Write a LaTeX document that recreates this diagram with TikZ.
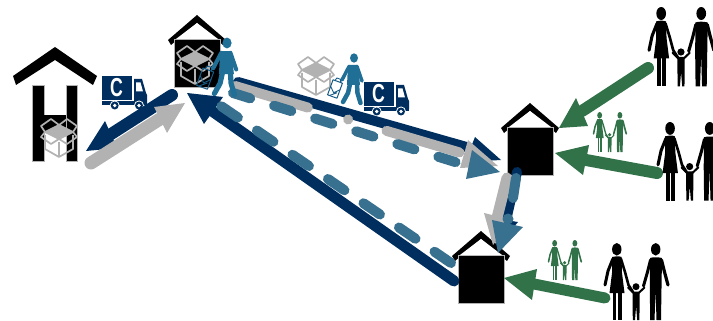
\documentclass[tikz,border=0pt]{standalone}
\usepackage{fontspec}
\setmainfont{Liberation Sans}
\definecolor{navy}{HTML}{002F5F}
\definecolor{steel}{HTML}{38708F}
\definecolor{ashg}{HTML}{B2B2B2}
\definecolor{leaf}{HTML}{317248}
\definecolor{walk}{HTML}{1F6F97}
\tikzset{
  flow/.style={line width=#1,line cap=round},
  dashA/.style={dash pattern=on 20pt off 23pt},
  dashB/.style={dash pattern=on 18pt off 25pt},
  dashC/.style={dash pattern=on 76pt off 42pt on 0.01pt off 40pt},
}
% house: apex, body
\newcommand{\housefig}[2]{%
  \begin{scope}[shift={(#1,#2)}]
    \fill[black] (0,0) -- (29,25) -- (26,30) -- (0,8) -- (-26,30) -- (-29,25) -- cycle;
    \fill[black,draw=ashg,line width=.5pt] (-23,24) rectangle (23,72.5);
    \fill[white] (0,8) -- (21,24) -- (-21,24) -- cycle;
  \end{scope}}
% open box
\newcommand{\boxfig}[3]{%
  \begin{scope}[shift={(#1,#2)},scale=#3,draw=ashg,line width=1.7pt*#3,line join=round]
    \fill[ashg] (18,6) -- (4,13) -- (18,20) -- (32,13) -- cycle;
    \draw (4,16) -- (4,30) -- (18,38) -- (32,30) -- (32,16);
    \draw (18,23) -- (18,38);
    \draw (18,6) -- (26,0) -- (36,7) -- (32,13) -- (18,6) -- (10,0) -- (0,7) -- (4,13) -- cycle;
    \draw (4,13) -- (0,18) -- (10,25) -- (18,20) -- (26,25) -- (36,18) -- (32,13);
    \draw (4,13) -- (18,20) -- (32,13);
  \end{scope}}
% truck
\newcommand{\truckfig}[2]{%
  \begin{scope}[shift={(#1,#2)}]
    \fill[navy] (0,0) rectangle (30,24);
    \fill[navy] (0,25) rectangle (45,29.5);
    \fill[navy] (32,3) -- (40,3) -- (44,17) -- (45,19) -- (45,27) -- (32,27) -- cycle;
    \fill[white] (34,6.5) -- (38.5,6.5) -- (41,15.5) -- (34,15.5) -- cycle;
    \foreach \wx in {12.7,37}{
      \fill[white] (\wx,29.5) circle (5);
      \fill[navy] (\wx,29.5) circle (4);
      \fill[white] (\wx,29.5) circle (1.8);
    }
    \node[text=white,font=\bfseries\fontsize{26}{26}\selectfont,inner sep=0pt,xscale=.68,transform shape] at (14.5,12) {C};
  \end{scope}}
% family: top-left corner, scale, colour
\newcommand{\famfig}[4]{%
  \begin{scope}[shift={(#1,#2)},scale=#3,line cap=round,line join=round,color=#4]
    % woman
    \fill (12.8,6.3) ellipse (4.7 and 6.3);
    \fill (8,14) .. controls (11,13) and (15,13) .. (17.5,14) -- (18,30) -- (20.5,50) -- (5.5,50) -- (8,30) -- cycle;
    \draw[line width=3pt*#3] (8.8,16) -- (4,28) -- (1,42);
    \draw[line width=2.6pt*#3] (17,16) -- (21,29) -- (24.5,42) -- (29,49);
    \fill (8.8,50) rectangle (12.4,77);
    \fill (14,50) rectangle (17.6,77);
    % child
    \fill (32,43.7) circle (3.5);
    \fill (28.6,48.5) -- (35.6,48.5) -- (35.6,62) -- (35.4,77) -- (33.2,77) -- (32.1,63) -- (31,77) -- (28.8,77) -- (28.6,62) -- cycle;
    \draw[line width=2pt*#3] (29.5,50) -- (24,44.5);
    \draw[line width=2pt*#3] (34.7,50) -- (40.5,44.5);
    % man
    \fill (51.7,6.3) ellipse (4.7 and 6.3);
    \fill (46,15) .. controls (49,14) and (54,14) .. (58,15) -- (57.5,45) -- (57,77) -- (52.5,77) -- (51.6,47) -- (50.5,77) -- (46.2,77) -- (45.8,45) -- cycle;
    \draw[line width=3pt*#3] (46.5,17) -- (43.5,29) -- (39.5,43);
    \draw[line width=3.2pt*#3] (57.5,17) -- (60.5,29) -- (64,42);
  \end{scope}}
% walker
\newcommand{\walkfig}[3]{%
  \begin{scope}[shift={(#1,#2)},scale=#3,line cap=round,line join=round]
    \begin{scope}[shift={(-19,31)},rotate=-20]
      \draw[walk!70!navy,line width=1pt] (-5,-8) rectangle (5,8);
      \draw[walk!70!navy,line width=.9pt] (-5,-1) -- (0,4) -- (5,-1) (-3,8) -- (3,3);
      \draw[walk!70!navy,line width=.9pt] (-3,-8) -- (-2,-11) -- (2,-11) -- (3,-8);
    \end{scope}
    \fill[walk] (0,0) ellipse (4 and 4.7);
    \fill[walk] (-6,7) -- (4,7) -- (6,27) -- (-7,27) -- cycle;
    \draw[walk,line width=3.5pt*#3] (-5,8.5) -- (-12,22);
    \draw[walk,line width=3.5pt*#3] (3,8.5) -- (8,23);
    \draw[walk,line width=4.5pt*#3] (-4,26) -- (-6,35) -- (-11,44);
    \draw[walk,line width=4.5pt*#3] (3,26) -- (3.5,35) -- (6.5,45);
  \end{scope}}
\begin{document}
\begin{tikzpicture}[x=1pt,y=-1pt]
\useasboundingbox (0,0) rectangle (713,321);
\clip (0,0) rectangle (713,321);
% left house
\fill[black] (55,47) -- (97,76) -- (93,85) -- (55,60) -- (16,85) -- (13,76) -- cycle;
\fill[black,draw=ashg,line width=.5pt] (32.5,85) rectangle (44,161);
\fill[black,draw=ashg,line width=.5pt] (66,85) rectangle (77,161);
\fill[black] (44,115) rectangle (66,133);
\boxfig{41}{119}{1}
\housefig{197}{15}
\boxfig{177}{46}{1}
\housefig{530}{103}
\housefig{481}{231}
\boxfig{298}{57}{1}
\truckfig{102}{76}
\truckfig{364}{82}
% endpoints
\coordinate (n1a) at (172,95);  \coordinate (n1b) at (108,136);
\coordinate (n1h1) at (105,121); \coordinate (n1t) at (86,151); \coordinate (n1h2) at (117,148);
\coordinate (g1a) at (91,163);  \coordinate (g1b) at (160,119);
\coordinate (g1h1) at (154,107); \coordinate (g1t) at (185,103); \coordinate (g1h2) at (167,133);
\coordinate (n2a) at (454,281); \coordinate (n2b) at (212,111);
\coordinate (n2h1) at (223,97); \coordinate (n2t) at (187,93); \coordinate (n2h2) at (204,124);
\coordinate (s2a) at (451,263); \coordinate (s2b) at (221,106);
\coordinate (n3a) at (238,82);  \coordinate (n3b) at (470,148);
\coordinate (n3h1) at (475,137); \coordinate (n3t) at (501,160); \coordinate (n3h2) at (465,162);
\coordinate (g3a) at (235,86);  \coordinate (g3b) at (468,155);
\coordinate (g3h1) at (468,140); \coordinate (g3t) at (498,166); \coordinate (g3h2) at (460,168);
\coordinate (s3a) at (233,93);  \coordinate (s3b) at (468,166);
\coordinate (s3h1) at (472,150); \coordinate (s3t) at (500,172); \coordinate (s3h2) at (466,179);
\coordinate (n4a) at (517,172); \coordinate (n4b) at (505,225);
\coordinate (n4h1) at (518,222); \coordinate (n4t) at (497,247); \coordinate (n4h2) at (488,217);
\coordinate (g4a) at (507,178); \coordinate (g4b) at (497,218);
\coordinate (g4h1) at (484,213); \coordinate (g4t) at (493,245); \coordinate (g4h2) at (512,220);
\coordinate (s4a) at (516,178); \coordinate (s4b) at (513,198);
\coordinate (s4c) at (508,219); \coordinate (s4h1) at (492,220); \coordinate (s4t) at (498,253); \coordinate (s4h2) at (523,227);
% navy arrows
\draw[flow=12pt,navy] (n1a) -- (n1b);
\fill[navy] (n1h1) -- (n1t) -- (n1h2) -- cycle;
\draw[flow=11pt,navy] (n2a) -- (n2b);
\fill[navy] (n2h1) -- (n2t) -- (n2h2) -- cycle;
\draw[flow=10pt,navy] (n3a) -- (n3b);
\fill[navy] (n3h1) -- (n3t) -- (n3h2) -- cycle;
\draw[flow=10pt,navy] (n4a) -- (n4b);
\fill[navy] (n4h1) -- (n4t) -- (n4h2) -- cycle;
% grey arrows
\draw[flow=13pt,ashg] (g1a) -- (g1b);
\fill[ashg] (g1h1) -- (g1t) -- (g1h2) -- cycle;
\draw[flow=10pt,ashg,dashC] (g3a) -- (g3b);
\fill[ashg] (g3h1) -- (g3t) -- (g3h2) -- cycle;
\draw[flow=11pt,ashg] (g4a) -- (g4b);
\fill[ashg] (g4h1) -- (g4t) -- (g4h2) -- cycle;
% steel arrows
\draw[flow=10pt,steel,dashA] (s2a) -- (s2b);
\draw[flow=10pt,steel,dashB] (s3a) -- (s3b);
\fill[steel] (s3h1) -- (s3t) -- (s3h2) -- cycle;
\draw[flow=10pt,steel] (s4a) -- (s4b);
\fill[steel] (s4c) circle (5.5);
\fill[steel] (s4h1) -- (s4t) -- (s4h2) -- cycle;
% green arrows
\coordinate (l1a) at (648,68); \coordinate (l1b) at (582,111);
\coordinate (l1h1) at (576,98); \coordinate (l1t) at (559,128); \coordinate (l1h2) at (588,126);
\coordinate (l2a) at (657,173); \coordinate (l2b) at (586,160);
\coordinate (l2h1) at (589,145); \coordinate (l2t) at (555,153); \coordinate (l2h2) at (583,175);
\coordinate (l3a) at (605,298); \coordinate (l3b) at (534,284);
\coordinate (l3h1) at (537,269); \coordinate (l3t) at (504,278); \coordinate (l3h2) at (532,300);
\draw[flow=12pt,leaf] (l1a) -- (l1b);
\fill[leaf] (l1h1) -- (l1t) -- (l1h2) -- cycle;
\draw[flow=12pt,leaf] (l2a) -- (l2b);
\fill[leaf] (l2h1) -- (l2t) -- (l2h2) -- cycle;
\draw[flow=11pt,leaf] (l3a) -- (l3b);
\fill[leaf] (l3h1) -- (l3t) -- (l3h2) -- cycle;
% people
\walkfig{354}{58}{1}
\walkfig{227}{43}{1.15}
\famfig{648}{7}{1.03}{black}
\famfig{657}{122}{1.02}{black}
\famfig{604}{243}{1}{black}
\famfig{593}{112}{.52}{leaf}
\famfig{548}{240}{.52}{leaf}
\end{tikzpicture}
\end{document}
